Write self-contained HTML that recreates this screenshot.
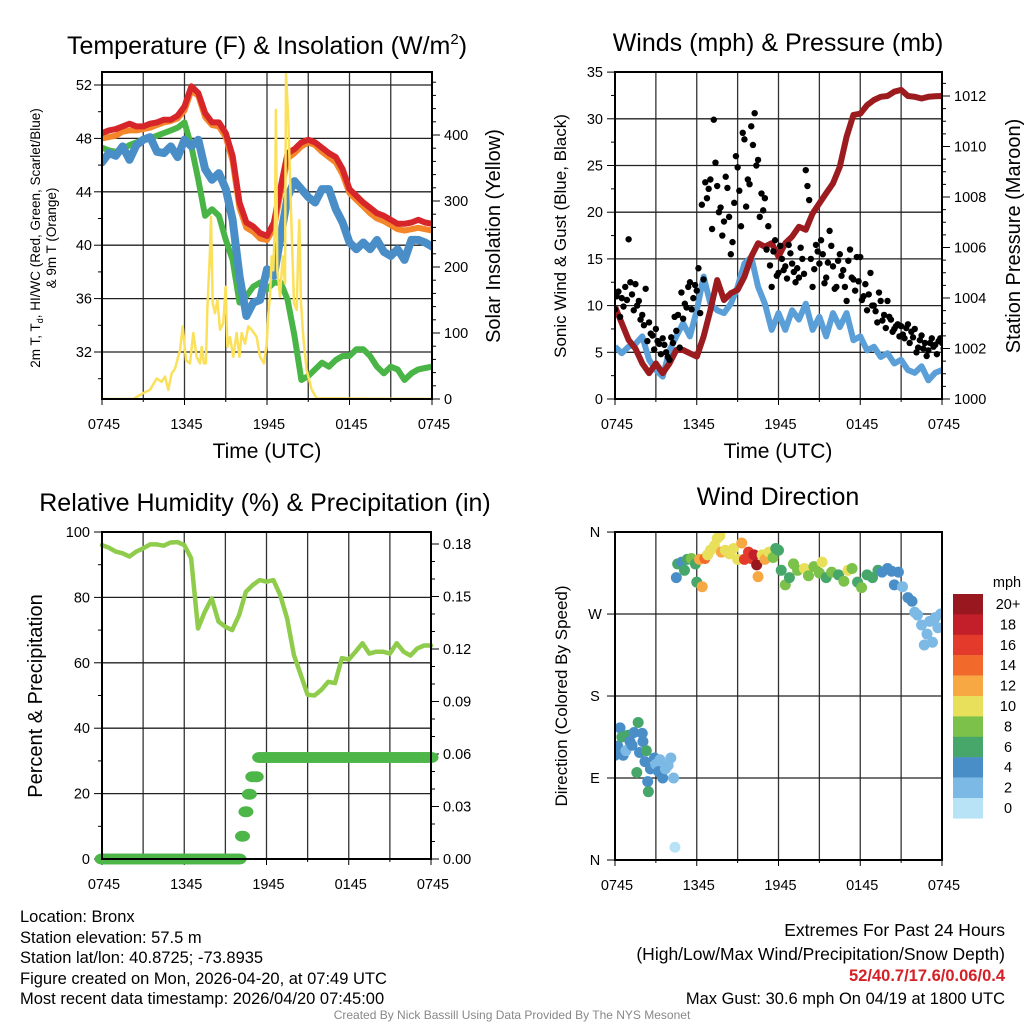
<!DOCTYPE html>
<html><head><meta charset="utf-8"><style>
html,body{margin:0;padding:0;background:#fff;}
svg{display:block;font-family:"Liberation Sans",Arial,sans-serif;}
</style></head><body>
<svg id="c" width="1024" height="1024" viewBox="0 0 1024 1024" xmlns="http://www.w3.org/2000/svg">
<defs>
<clipPath id="cp1"><rect x="102" y="72" width="330" height="327"/></clipPath>
<clipPath id="cp2"><rect x="615" y="72" width="327" height="327"/></clipPath>
<clipPath id="cp3"><rect x="102" y="532" width="329" height="327"/></clipPath>
<clipPath id="cp4"><rect x="615" y="532" width="327" height="328"/></clipPath>
</defs>
<g id="texts">
<text x="267" y="54" font-size="25" text-anchor="middle">Temperature (F) &amp; Insolation (W/m<tspan font-size="15" dy="-10">2</tspan><tspan dy="10">)</tspan></text>
<text x="778" y="51" font-size="25" text-anchor="middle">Winds (mph) &amp; Pressure (mb)</text>
<text x="265" y="511" font-size="25" text-anchor="middle">Relative Humidity (%) &amp; Precipitation (in)</text>
<text x="778" y="505" font-size="25" text-anchor="middle">Wind Direction</text>
<text x="267" y="458" font-size="21" text-anchor="middle">Time (UTC)</text>
<text x="778" y="458" font-size="21" text-anchor="middle">Time (UTC)</text>
<text transform="translate(40,238) rotate(-90)" font-size="13.5" text-anchor="middle">2m T, T<tspan font-size="9" dy="3">d</tspan><tspan dy="-3">, HI/WC (Red, Green, Scarlet/Blue)</tspan></text>
<text transform="translate(56,238) rotate(-90)" font-size="13.5" text-anchor="middle">&amp; 9m T (Orange)</text>
<text transform="translate(500,236) rotate(-90)" font-size="20" text-anchor="middle">Solar Insolation (Yellow)</text>
<text transform="translate(566,236) rotate(-90)" font-size="17" text-anchor="middle">Sonic Wind &amp; Gust (Blue, Black)</text>
<text transform="translate(1020,236) rotate(-90)" font-size="20" text-anchor="middle">Station Pressure (Maroon)</text>
<text transform="translate(42,696) rotate(-90)" font-size="20" text-anchor="middle">Percent &amp; Precipitation</text>
<text transform="translate(567,696) rotate(-90)" font-size="17" text-anchor="middle">Direction (Colored By Speed)</text>
<g font-size="16.5">
<text x="20" y="922">Location: Bronx</text>
<text x="20" y="943">Station elevation: 57.5 m</text>
<text x="20" y="963">Station lat/lon: 40.8725; -73.8935</text>
<text x="20" y="984">Figure created on Mon, 2026-04-20, at 07:49 UTC</text>
<text x="20" y="1004">Most recent data timestamp: 2026/04/20 07:45:00</text>
</g>
<g font-size="17.5" text-anchor="end">
<text x="1005" y="936">Extremes For Past 24 Hours</text>
<text x="1005" y="960">(High/Low/Max Wind/Precipitation/Snow Depth)</text>
<text x="1005" y="981" fill="#d42027" font-weight="bold" font-size="16.5">52/40.7/17.6/0.06/0.4</text>
<text x="1005" y="1004" font-size="16.5">Max Gust: 30.6 mph On 04/19 at 1800 UTC</text>
</g>
<text x="512" y="1019" font-size="12" fill="#888" text-anchor="middle">Created By Nick Bassill Using Data Provided By The NYS Mesonet</text>
</g>
<g id="g1"></g><g id="g2"></g><g id="g3"></g><g id="g4"></g>
</svg>
<script>
// ---------- data (half-hourly, t=0..24 h from 0745 UTC) ----------
const xTickLabels = ["0745","1345","1945","0145","0745"];
const tempRed = [48.4,48.6,48.7,48.9,49.1,48.9,48.9,49.1,49.2,49.4,49.4,49.7,50.4,51.9,51.4,49.9,49.2,49.2,48.4,46.7,43.2,41.7,41.4,40.9,40.7,41.7,44.4,46.9,47.2,47.7,47.9,47.7,47.3,46.9,46.6,45.7,44.2,43.7,43.2,42.8,42.4,42.2,41.9,41.6,41.6,41.7,41.9,41.7,41.6];
const tempOrange = [48.0,48.1,48.2,48.5,48.6,48.6,48.7,48.8,49.0,49.2,49.3,49.5,50.1,51.6,51.2,49.6,49.0,48.9,48.1,46.3,42.8,41.3,41.0,40.5,40.4,41.3,44.0,46.5,46.9,47.4,47.7,47.5,47.0,46.6,46.2,45.3,43.9,43.4,42.9,42.4,42.0,41.8,41.5,41.2,41.1,41.2,41.3,41.2,41.1];
const tempBlue = [46.2,46.9,46.7,47.4,46.4,47.5,47.9,48.1,47.0,46.9,47.4,46.6,47.9,47.4,47.9,45.7,44.9,45.4,44.2,41.9,37.7,34.7,35.7,35.9,38.2,37.7,40.7,43.6,44.8,44.2,43.6,43.2,44.2,44.2,42.7,41.7,40.2,39.7,40.2,39.7,40.4,39.5,39.2,39.7,38.9,40.4,40.4,40.2,39.9];
const tempGreen = [47.3,47.1,47.0,47.2,47.5,47.7,47.9,48.0,48.2,48.4,48.6,48.8,49.2,47.4,44.9,42.2,42.7,42.2,40.4,38.9,35.7,36.2,36.9,37.2,36.7,37.2,37.2,35.9,33.2,29.9,30.2,30.7,31.2,30.9,31.4,31.7,31.7,32.2,32.2,31.7,30.9,30.4,30.9,30.7,29.9,30.4,30.7,30.8,30.9];
const solarT = [0,2.28,3.0,3.49,3.98,4.34,4.58,4.82,5.07,5.31,5.67,5.87,6.11,6.4,6.64,6.88,7.13,7.25,7.42,7.56,7.66,7.85,7.93,8.05,8.22,8.39,8.58,8.82,8.99,9.12,9.31,9.55,9.79,9.99,10.16,10.4,10.64,10.88,11.05,11.25,11.49,11.78,11.98,12.1,12.22,12.34,12.46,12.58,12.65,12.75,12.95,13.14,13.31,13.38,13.55,13.67,13.79,13.96,14.16,14.28,14.35,14.47,14.64,14.88,15.25,15.61,24];
const solarW = [0,0,9,14,31,26,34,14,39,46,74,110,59,54,100,64,54,79,54,54,135,221,276,145,130,150,105,115,170,79,94,64,100,64,100,84,110,105,100,94,64,54,84,130,155,216,195,271,438,195,155,216,175,495,423,337,256,145,135,236,271,145,94,44,14,1,0];
const windSonic = [5.6,4.9,5.6,5.9,6.7,4.2,3.1,2.4,5.2,6.7,8.1,6.7,9.5,13.1,10.2,9.5,9.2,10.2,12.0,14.5,15.2,12.0,10.2,7.4,9.2,7.4,9.5,8.5,10.2,7.4,8.8,6.7,9.2,7.7,9.2,6.3,6.7,5.2,5.6,4.5,4.9,3.8,4.2,3.1,2.8,3.5,2.0,2.8,3.1];
const pressure = [1003.66,1003.0,1002.34,1002.0,1001.41,1001.02,1001.41,1001.02,1001.41,1001.94,1001.94,1001.81,1001.68,1002.47,1003.52,1004.71,1003.92,1004.19,1004.32,1004.84,1005.64,1006.17,1006.03,1006.17,1005.64,1006.17,1006.43,1006.82,1006.7,1007.35,1007.75,1008.15,1008.54,1009.2,1010.39,1011.25,1011.3,1011.64,1011.84,1011.97,1012.0,1012.17,1012.24,1012.0,1011.97,1011.9,1011.97,1011.99,1012.0];
// gusts every 15 min
const gusts = [9.6,11.5,10.8,12.0,17.1,11.2,12.3,10.5,9.0,11.8,8.2,6.8,7.5,5.9,6.5,5.0,4.2,6.0,7.3,5.5,8.6,9.8,12.5,10.8,11.6,9.2,12.8,21.5,23.5,29.9,22.8,20.5,19.0,22.6,15.5,21.0,24.8,18.5,27.8,23.5,29.2,30.6,25.6,22.0,21.5,18.5,12.0,17.0,13.5,15.0,14.2,16.5,14.5,12.5,13.0,15.0,24.5,21.3,12.0,16.5,14.5,15.5,13.0,18.0,14.2,12.0,15.5,13.8,10.5,16.0,12.8,15.2,15.2,11.0,9.5,13.5,10.0,8.2,10.5,9.0,10.5,8.5,7.5,8.0,7.8,6.5,8.0,7.2,7.5,5.5,6.8,6.0,5.2,6.5,5.8,6.2,6.0];
const gusts2 = [11.0,8.8,9.9,10.6,12.5,9.5,10.0,8.5,7.9,6.2,7.0,5.3,6.2,4.8,5.8,4.5,6.6,8.8,9.0,11.4,10.2,12.0,9.6,12.2,14.0,20.8,23.2,22.5,18.2,25.3,20.0,17.5,23.8,19.5,16.8,26.0,22.3,28.5,20.6,23.0,27.2,25.0,19.5,20.2,16.0,14.3,15.8,13.2,16.4,13.8,12.9,15.6,13.6,14.0,16.2,13.4,22.8,15.0,13.9,15.8,17.0,12.4,14.6,16.4,11.8,14.8,13.2,12.0,14.8,13.0,11.6,12.6,10.6,12.3,11.2,10.0,9.4,11.4,8.4,7.6,8.8,7.2,7.8,6.7,6.9,7.6,6.0,6.6,5.0,6.3,5.4,4.6,6.0,5.6,4.8,6.5,5.4];
const rh = [96.0,95.2,94.0,93.5,92.5,94.0,95.0,96.2,96.2,95.8,96.8,96.9,96.0,92.0,70.5,75.6,79.7,72.6,71.0,70.0,74.6,81.7,83.8,85.3,84.8,85.3,80.7,73.6,62.4,56.3,50.2,50.0,51.7,54.2,53.8,61.4,61.0,63.4,66.0,62.8,63.4,63.4,62.8,66.0,63.4,62.2,64.4,65.3,65.3];
// precipitation every 15 min
const precip = [0,0,0,0,0,0,0,0,0,0,0,0,0,0,0,0,0,0,0,0,0,0,0,0,0,0,0,0,0,0,0,0,0,0,0,0,0,0,0,0,0,0.013,0.027,0.037,0.047,0.047,0.058,0.058,0.058,0.058,0.058,0.058,0.058,0.058,0.058,0.058,0.058,0.058,0.058,0.058,0.058,0.058,0.058,0.058,0.058,0.058,0.058,0.058,0.058,0.058,0.058,0.058,0.058,0.058,0.058,0.058,0.058,0.058,0.058,0.058,0.058,0.058,0.058,0.058,0.058,0.058,0.058,0.058,0.058,0.058,0.058,0.058,0.058,0.058,0.058,0.058,0.058];
const dirT = [0.0,0.2,0.37,0.5,0.6,0.8,0.95,1.1,1.25,1.4,1.6,1.7,1.8,2.0,2.05,2.2,2.3,2.4,2.45,2.6,2.9,3.0,3.2,3.3,3.5,3.7,3.9,4.1,4.3,4.4,4.5,4.6,4.9,5.1,5.3,5.6,5.9,6.0,6.2,6.4,6.6,6.8,7.0,7.3,7.5,7.7,7.8,8.1,8.4,8.7,9.0,9.3,9.5,9.8,10.0,10.2,10.4,10.5,10.8,11.0,11.3,11.6,11.8,12.0,12.2,12.5,12.8,13.1,13.4,13.9,14.2,14.6,15.0,15.2,15.5,15.9,16.4,16.8,17.1,17.4,17.8,18.1,18.5,18.9,19.3,19.6,20.0,20.3,20.5,20.8,21.1,21.5,21.8,22.0,22.2,22.5,22.7,22.9,23.1,23.3,23.5,23.7,23.9];
const dirDeg = [115,125,145,135,115,120,137,130,126,140,96,151,118,139,130,108,120,86,75,100,112,105,97,110,90,100,104,112,90,14,310,325,327,318,330,331,325,305,330,300,331,335,340,345,353,356,338,340,336,342,330,348,330,338,331,335,324,311,335,330,338,332,342,340,318,302,310,325,318,320,312,322,315,327,310,316,313,306,318,320,305,299,313,310,318,316,320,317,302,316,300,288,284,272,269,258,236,248,262,239,266,255,270];
const dirSpd = [4,4,4,6,4,2,6,4,4,4,6,6,4,4,4,4,6,4,6,4,4,2,4,2,4,2,2,2,2,0,4,6,4,6,6,8,6,6,12,12,14,10,10,10,10,10,12,10,10,10,10,12,16,16,16,18,20,12,10,12,10,8,6,6,6,8,6,8,8,10,8,8,8,10,6,8,6,8,10,8,6,8,6,6,6,4,4,4,4,4,2,4,4,2,2,2,2,2,2,2,2,2,2];
const speedLabels = ["0","2","4","6","8","10","12","14","16","18","20+"];
const speedColors = ["#b8e3f7","#7db9e5","#4a8ec8","#47a76b","#7cc14a","#e8e05a","#f7a843","#f26a2b","#e33a2b","#c21f2a","#99171e"];

// ---------- helpers ----------
const NS = "http://www.w3.org/2000/svg";
function mk(parent, tag, attrs){ const e=document.createElementNS(NS,tag); for(const k in attrs) e.setAttribute(k,attrs[k]); parent.appendChild(e); return e; }
function linePath(xs, ys, fx, fy){ let d=""; for(let i=0;i<xs.length;i++){ d+=(i?"L":"M")+fx(xs[i]).toFixed(1)+","+fy(ys[i]).toFixed(1);} return d; }
const half = i => i*0.5, quarter = i => i*0.25;

function frame(g, L, T, R, B, vx, hy, name){
  for(const x of vx){ const l=mk(g,"line",{x1:x,y1:T,x2:x,y2:B,stroke:"#333","stroke-width":1.3});
      }
  for(const y of hy){ const l=mk(g,"line",{x1:L,y1:y,x2:R,y2:y,stroke:"#222","stroke-width":1.3});
      }
}
function border(g,L,T,R,B,name){ const r=mk(g,"rect",{x:L,y:T,width:R-L,height:B-T,fill:"none",stroke:"#000","stroke-width":2});
    }
function tick(g,x1,y1,x2,y2){ mk(g,"line",{x1,y1,x2,y2,stroke:"#000","stroke-width":1}); }
function label(g,x,y,txt,anchor,name){ const t=mk(g,"text",{x,y,"font-size":14.5,"text-anchor":anchor}); t.textContent=txt;
    return t; }

function xAxis(g, L, R, B, name){
  const sx = t => L + t*(R-L)/24;
  const vx=[]; for(let h=3;h<24;h+=3) vx.push(sx(h));
  for(let i=0;i<xTickLabels.length;i++){ const x=sx(i*6); tick(g,x,B,x,B+6); label(g,x+2,B+30,xTickLabels[i],"middle",name+'-x-tick-label'); }
  for(let h=3;h<24;h+=6){ tick(g,sx(h),B,sx(h),B+3); }
  return {sx,vx};
}

// ---------- Panel 1: temperature ----------
(function(){
  const g=document.getElementById("g1");
  const L=102,T=72,R=432,B=399;
  const {sx,vx}=xAxis(g,L,R,B,'temp');
  const yT=v=>85+(52-v)*13.35, yS=v=>399-v*0.66;
  const hy=[]; for(let v=32;v<=52;v+=4) hy.push(yT(v));
  frame(g,L,T,R,B,vx,hy,'temp');
  for(let v=30;v<=52;v+=2){ const y=yT(v); tick(g,L-(v%4===0?8:4),y,L,y); if(v%4===0) label(g,L-10,y+5,String(v),"end",'temp-y-tick-label'); }
  for(let v=0;v<=480;v+=20){ const y=yS(v); tick(g,R,y,R+(v%100===0?8:4),y); if(v%100===0) label(g,R+12,y+5,String(v),"start",'solar-y-tick-label'); }
  const c=mk(g,"g",{"clip-path":"url(#cp1)"});
  const series=[[tempGreen,"#49b546",'dewpoint-line',6],[tempBlue,"#4a8ec8",'heat-index-line',8],[tempOrange,"#f4862a",'temp-9m-line',6],[tempRed,"#d7262a",'temp-2m-line',6]];
  for(const [arr,col,nm,w] of series){
    const p=mk(c,"path",{d:linePath(arr.map((_,i)=>half(i)),arr,sx,yT),fill:"none",stroke:col,"stroke-width":w,"stroke-linejoin":"round","stroke-linecap":"round"});
     
  }
  const s=mk(c,"path",{d:linePath(solarT,solarW,sx,yS),fill:"none",stroke:"#fbe05a","stroke-width":2.5,"stroke-linejoin":"round"});
   
  border(g,L,T,R,B,'temp');
})();

// ---------- Panel 2: winds ----------
(function(){
  const g=document.getElementById("g2");
  const L=615,T=72,R=942,B=399;
  const {sx,vx}=xAxis(g,L,R,B,'winds');
  const yW=v=>399-v*9.34, yP=p=>399-(p-1000)*25.25;
  const hy=[]; for(let v=5;v<=30;v+=5) hy.push(yW(v));
  frame(g,L,T,R,B,vx,hy,'winds');
  for(let v=0;v<=35;v+=2.5){ const y=yW(v); tick(g,L-(v%5===0?8:4),y,L,y); if(v%5===0) label(g,L-12,y+5,String(v),"end",'wind-y-tick-label'); }
  for(let p=1000;p<=1012.9;p+=0.5){ const y=yP(p); tick(g,R,y,R+(Math.abs(p%2)<0.01?8:4),y); if(Math.abs(p%2)<0.01) label(g,R+12,y+5,String(p),"start",'pressure-y-tick-label'); }
  const c=mk(g,"g",{"clip-path":"url(#cp2)"});
  const w=mk(c,"path",{d:linePath(windSonic.map((_,i)=>half(i)),windSonic,sx,yW),fill:"none",stroke:"#5a9fd8","stroke-width":6,"stroke-linejoin":"round"});
   
  const pr=mk(c,"path",{d:linePath(pressure.map((_,i)=>half(i)),pressure,sx,yP),fill:"none",stroke:"#9b1b1e","stroke-width":6,"stroke-linejoin":"round"});
   
  for(let i=0;i<gusts.length;i++){
    const d=mk(c,"circle",{cx:sx(quarter(i)),cy:yW(gusts[i]),r:3.2,fill:"#000"});
     
  }
  for(let i=0;i<gusts2.length;i++){
    const d=mk(c,"circle",{cx:sx(quarter(i)+0.125),cy:yW(gusts2[i]),r:3.2,fill:"#000"});
     
  }
  border(g,L,T,R,B,'winds');
})();

// ---------- Panel 3: RH & precip ----------
(function(){
  const g=document.getElementById("g3");
  const L=102,T=532,R=431,B=859;
  const {sx,vx}=xAxis(g,L,R,B,'humidity');
  const yR=v=>859-v*3.27, yPr=v=>859-v*1750;
  const hy=[]; for(let v=20;v<=80;v+=20) hy.push(yR(v));
  frame(g,L,T,R,B,vx,hy,'humidity');
  for(let v=0;v<=100;v+=10){ const y=yR(v); tick(g,L-(v%20===0?8:4),y,L,y); if(v%20===0) label(g,L-12,y+5,String(v),"end",'humidity-y-tick-label'); }
  for(let k=0;k<=18;k++){ const v=k/100, y=yPr(v); tick(g,R,y,R+(k%3===0?8:4),y); if(k%3===0) label(g,R+12,y+5,v.toFixed(2),"start",'precip-y-tick-label'); }
  const c=mk(g,"g",{});
  for(let i=0;i<precip.length;i++){
    const e=mk(c,"ellipse",{cx:sx(quarter(i)),cy:yPr(precip[i]),rx:7.5,ry:5.5,fill:"#4cb648"});
     
  }
  const p=mk(c,"path",{d:linePath(rh.map((_,i)=>half(i)),rh,sx,yR),fill:"none",stroke:"#90cc4c","stroke-width":4.5,"stroke-linejoin":"round","stroke-linecap":"round"});
   
  border(g,L,T,R,B,'humidity');
})();

// ---------- Panel 4: wind direction ----------
(function(){
  const g=document.getElementById("g4");
  const L=615,T=532,R=942,B=860;
  const {sx,vx}=xAxis(g,L,R,B,'direction');
  const yD=d=>860-d*0.911;
  const hy=[yD(90),yD(180),yD(270)];
  frame(g,L,T,R,B,vx,hy,'direction');
  const dl=["N","E","S","W","N"];
  for(let i=0;i<5;i++){ const y=yD(i*90); tick(g,L-8,y,L,y); label(g,L-20,y+5,dl[i],"middle",'direction-y-tick-label'); }
  const c=mk(g,"g",{"clip-path":"url(#cp4)"});
  for(let i=0;i<dirT.length;i++){
    const col=speedColors[Math.min(10,Math.floor(dirSpd[i]/2))];
    const d=mk(c,"circle",{cx:sx(dirT[i]),cy:yD(dirDeg[i]),r:5.5,fill:col});
     
  }
  border(g,L,T,R,B,'direction');
  const leg=mk(g,"g",{});
   
  const t=mk(leg,"text",{x:1007,y:587,"font-size":14.5,"text-anchor":"middle"}); t.textContent="mph";
  for(let i=0;i<11;i++){
    const k=10-i, y=594+i*20.4;
    const r=mk(leg,"rect",{x:953,y:y,width:30,height:20.6,fill:speedColors[k]});
     
    const tt=mk(leg,"text",{x:1008,y:y+15,"font-size":14.5,"text-anchor":"middle"}); tt.textContent=speedLabels[k];
  }
})();
</script>
</body></html>
